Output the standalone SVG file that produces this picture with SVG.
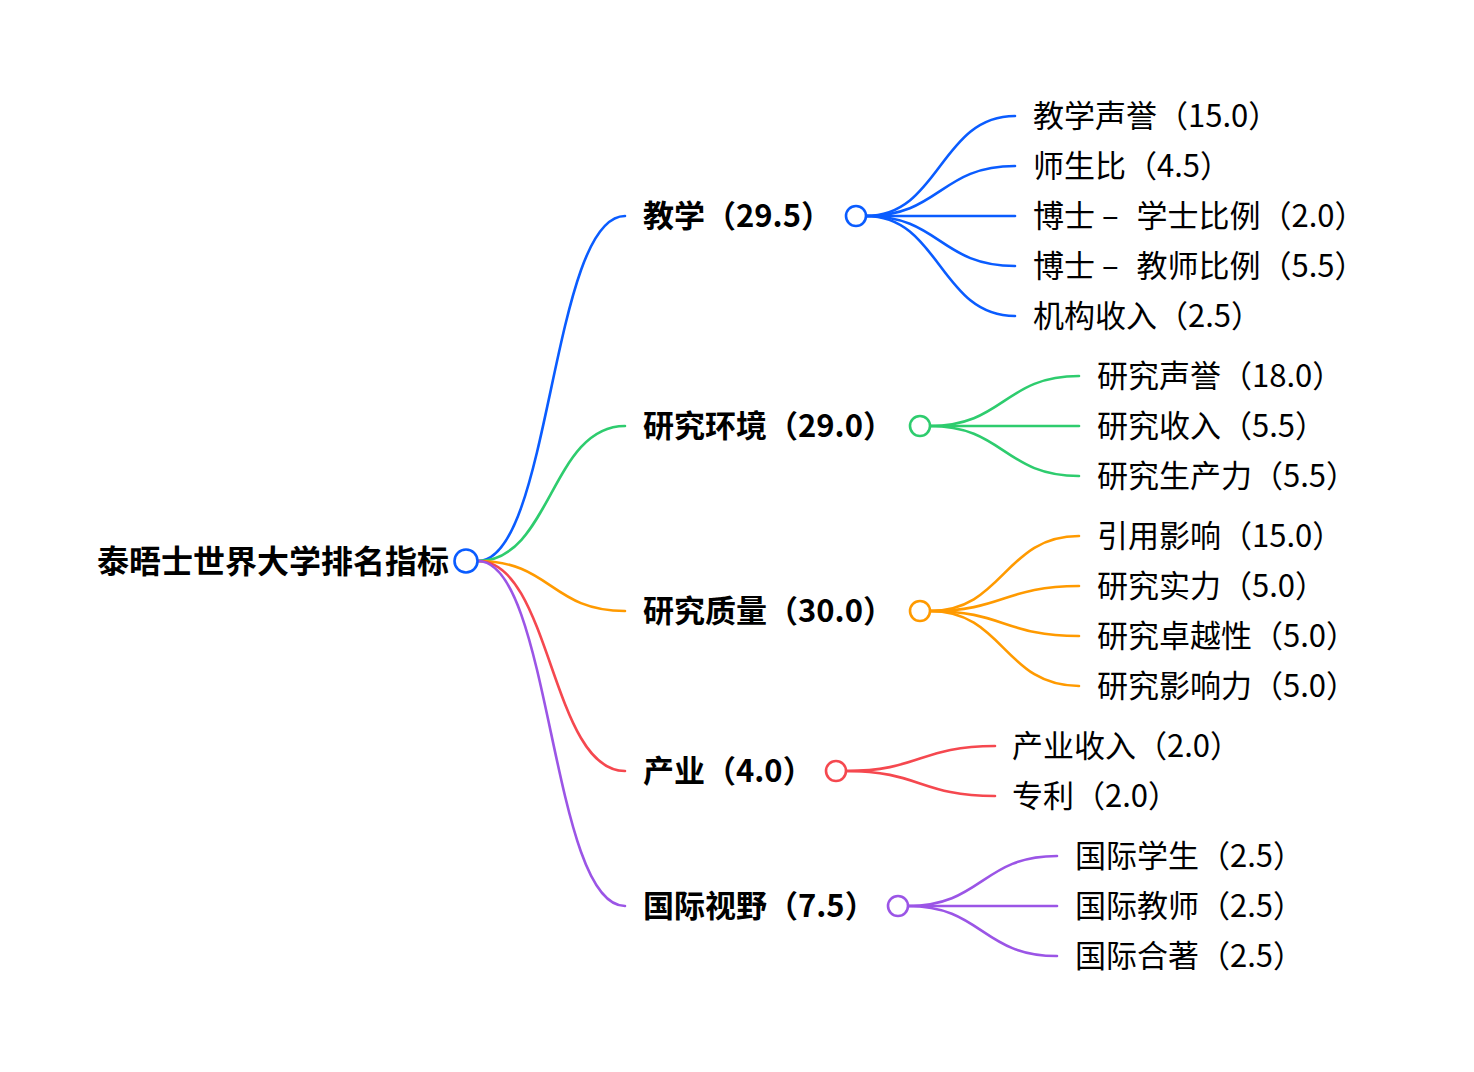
<svg xmlns="http://www.w3.org/2000/svg" width="1474" height="1072" viewBox="0 0 1474 1072">
<style>
text{font-family:"Noto Sans CJK SC","Noto Sans",sans-serif;fill:#000}
.root{font-size:32px;font-weight:700}
.br{font-size:31px;font-weight:700}
.lf{font-size:31px;font-weight:400}
.l{fill:none;stroke-width:2.6;stroke-linecap:round}
.c{fill:#fff;stroke-width:2.6}
.blue{stroke:#0a5cff}.green{stroke:#2ecc6e}.orange{stroke:#ff9a00}.red{stroke:#f5484f}.purple{stroke:#9b55e6}
</style>
<rect width="1474" height="1072" fill="#fff"/>
<g id="connectors">
<path class="l blue" d="M478,561 C551,561 551,216 625,216"/>
<path class="l green" d="M478,561 C551,561 551,426 625,426"/>
<path class="l orange" d="M478,561 C551,561 551,611 625,611"/>
<path class="l red" d="M478,561 C551,561 551,771 625,771"/>
<path class="l purple" d="M478,561 C551,561 551,906 625,906"/>
<path class="l blue" d="M866,216 C940,216 940,116 1015,116"/>
<path class="l blue" d="M866,216 C940,216 940,166 1015,166"/>
<path class="l blue" d="M866,216 L1015,216"/>
<path class="l blue" d="M866,216 C940,216 940,266 1015,266"/>
<path class="l blue" d="M866,216 C940,216 940,316 1015,316"/>
<path class="l green" d="M930,426 C1004,426 1004,376 1079,376"/>
<path class="l green" d="M930,426 L1079,426"/>
<path class="l green" d="M930,426 C1004,426 1004,476 1079,476"/>
<path class="l orange" d="M930,611 C1004,611 1004,536 1079,536"/>
<path class="l orange" d="M930,611 C1004,611 1004,586 1079,586"/>
<path class="l orange" d="M930,611 C1004,611 1004,636 1079,636"/>
<path class="l orange" d="M930,611 C1004,611 1004,686 1079,686"/>
<path class="l red" d="M846,771 C920,771 920,746 995,746"/>
<path class="l red" d="M846,771 C920,771 920,796 995,796"/>
<path class="l purple" d="M908,906 C982,906 982,856 1057,856"/>
<path class="l purple" d="M908,906 L1057,906"/>
<path class="l purple" d="M908,906 C982,906 982,956 1057,956"/>
</g>
<g id="root"><text class="root" x="97" y="573">泰晤士世界大学排名指标</text><circle class="c blue" cx="466" cy="561" r="11.5"/></g>
<g id="n-teaching"><text class="br" x="643" y="227">教学（29.5）</text><circle class="c blue" cx="856" cy="216" r="10"/></g>
<g id="n-env"><text class="br" x="643" y="437">研究环境（29.0）</text><circle class="c green" cx="920" cy="426" r="10"/></g>
<g id="n-quality"><text class="br" x="643" y="622">研究质量（30.0）</text><circle class="c orange" cx="920" cy="611" r="10"/></g>
<g id="n-industry"><text class="br" x="643" y="782">产业（4.0）</text><circle class="c red" cx="836" cy="771" r="10"/></g>
<g id="n-intl"><text class="br" x="643" y="917">国际视野（7.5）</text><circle class="c purple" cx="898" cy="906" r="10"/></g>
<g id="t1"><text class="lf" x="1033" y="127">教学声誉（15.0）</text></g>
<g id="t2"><text class="lf" x="1033" y="177">师生比（4.5）</text></g>
<g id="t3"><text class="lf" x="1033" y="227">博士 – <tspan dx="11">学士比例（2.0）</tspan></text></g>
<g id="t4"><text class="lf" x="1033" y="277">博士 – <tspan dx="11">教师比例（5.5）</tspan></text></g>
<g id="t5"><text class="lf" x="1033" y="327">机构收入（2.5）</text></g>
<g id="e1"><text class="lf" x="1097" y="387">研究声誉（18.0）</text></g>
<g id="e2"><text class="lf" x="1097" y="437">研究收入（5.5）</text></g>
<g id="e3"><text class="lf" x="1097" y="487">研究生产力（5.5）</text></g>
<g id="q1"><text class="lf" x="1097" y="547">引用影响（15.0）</text></g>
<g id="q2"><text class="lf" x="1097" y="597">研究实力（5.0）</text></g>
<g id="q3"><text class="lf" x="1097" y="647">研究卓越性（5.0）</text></g>
<g id="q4"><text class="lf" x="1097" y="697">研究影响力（5.0）</text></g>
<g id="i1"><text class="lf" x="1012" y="757">产业收入（2.0）</text></g>
<g id="i2"><text class="lf" x="1012" y="807">专利（2.0）</text></g>
<g id="g1"><text class="lf" x="1075" y="867">国际学生（2.5）</text></g>
<g id="g2"><text class="lf" x="1075" y="917">国际教师（2.5）</text></g>
<g id="g3"><text class="lf" x="1075" y="967">国际合著（2.5）</text></g>
</svg>
